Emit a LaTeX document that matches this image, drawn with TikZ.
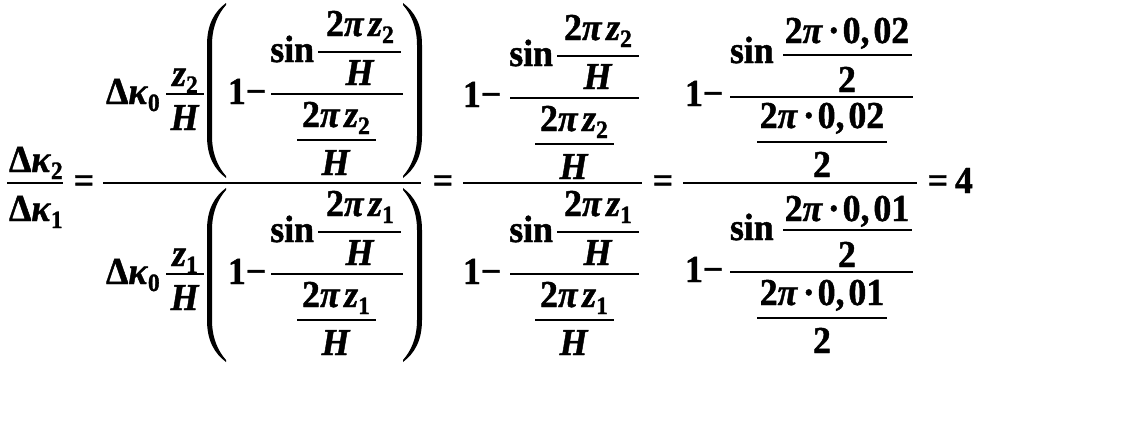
\documentclass[tikz,border=0pt]{standalone}
\usepackage{fontspec}
\setmainfont{Liberation Serif}[FakeStretch=0.94,BoldFeatures={FakeBold=1.2},BoldItalicFeatures={FakeBold=1.2}]
\newcommand\bi[1]{\textbf{\textit{#1}}}
\newcommand\sbs[1]{\raisebox{-7pt}{\fontsize{25}{25}\selectfont\bfseries #1}}
\newcommand\dk[1]{Δ\bi{κ}\sbs{#1}}
\newcommand\tpz[1]{2\bi{π}\kern4pt\bi{z}\sbs{#1}}
\newcommand\tpn[1]{2\bi{π}\kern5pt·\kern3pt0,\kern4pt0#1}
\newcommand\mH{\bi{H}}
\newcommand\lpar[3]{%
\fill (#1+19,#2) .. controls (#1+7,#2+9) and (#1,#2+22) .. (#1,#2+42) -- (#1,#3-42) .. controls (#1,#3-22) and (#1+7,#3-9) .. (#1+19,#3) -- (#1+19,#3-2) .. controls (#1+11,#3-11) and (#1+5,#3-24) .. (#1+5,#3-42) -- (#1+5,#2+42) .. controls (#1+5,#2+24) and (#1+11,#2+11) .. (#1+19,#2+2) -- cycle;}
\newcommand\rpar[3]{%
\fill (#1-19,#2) .. controls (#1-7,#2+9) and (#1,#2+22) .. (#1,#2+42) -- (#1,#3-42) .. controls (#1,#3-22) and (#1-7,#3-9) .. (#1-19,#3) -- (#1-19,#3-2) .. controls (#1-11,#3-11) and (#1-5,#3-24) .. (#1-5,#3-42) -- (#1-5,#2+42) .. controls (#1-5,#2+24) and (#1-11,#2+11) .. (#1-19,#2+2) -- cycle;}
\tikzset{
  every node/.style={inner sep=0pt,outer sep=0pt,font=\fontsize{38}{38}\selectfont\bfseries},
  bw/.style={anchor=base west},
  be/.style={anchor=base east},
  bc/.style={anchor=base},
  rule/.style={line width=2.4pt}
}
\begin{document}
\begin{tikzpicture}[x=1pt,y=-1pt]
\useasboundingbox[fill=white] (0,0) rectangle (1125,423);
% left-hand side
\node[bw] (k2) at (9,172) {\dk{2}};
\node[bw] (k1) at (9,221) {\dk{1}};
\draw[rule] (7,183) -- (63,183);
\node[bc] (eq1) at (84,193) {=};
% first big fraction
\draw[rule] (103,183) -- (421,183);
% numerator
\node[bw] (u0) at (106,104) {\dk{0}};
\node[bc] (uz) at (185,86) {\bi{z}\sbs{2}};
\draw[rule] (166,94) -- (204,94);
\node[bc] (uH) at (185,130) {\mH};
\lpar{207}{3}{178}
\rpar{422}{3}{178}
\node[bw] (u1) at (228,104) {1−};
\draw[rule] (271,94) -- (403,94);
\node[be] (us) at (314,62) {sin};
\draw[rule] (318,52) -- (401,52);
\node[bc] (usn) at (360,36) {\tpz{2}};
\node[bc] (usd) at (360,85) {\mH};
\node[bc] (udn) at (336,127) {\tpz{2}};
\draw[rule] (297,140) -- (376,140);
\node[bc] (udd) at (336,175) {\mH};
% denominator
\node[bw] (l0) at (106,284) {\dk{0}};
\node[bc] (lz) at (185,266) {\bi{z}\sbs{1}};
\draw[rule] (166,274) -- (204,274);
\node[bc] (lH) at (185,310) {\mH};
\lpar{207}{188}{362}
\rpar{422}{188}{362}
\node[bw] (l1) at (228,284) {1−};
\draw[rule] (271,274) -- (403,274);
\node[be] (ls) at (314,242) {sin};
\draw[rule] (318,232) -- (401,232);
\node[bc] (lsn) at (360,216) {\tpz{1}};
\node[bc] (lsd) at (360,265) {\mH};
\node[bc] (ldn) at (336,307) {\tpz{1}};
\draw[rule] (297,320) -- (376,320);
\node[bc] (ldd) at (336,355) {\mH};
% second fraction
\node[bc] (eq2) at (443,193) {=};
\draw[rule] (463,183) -- (642,183);
\node[bw] (v1) at (463,107) {1−};
\draw[rule] (510,98) -- (639,98);
\node[be] (vs) at (553,66) {sin};
\draw[rule] (557,56) -- (639,56);
\node[bc] (vsn) at (598,40) {\tpz{2}};
\node[bc] (vsd) at (598,89) {\mH};
\node[bc] (vdn) at (574,131) {\tpz{2}};
\draw[rule] (535,144) -- (614,144);
\node[bc] (vdd) at (574,179) {\mH};
\node[bw] (w1) at (463,284) {1−};
\draw[rule] (510,274) -- (639,274);
\node[be] (ws) at (553,242) {sin};
\draw[rule] (557,232) -- (639,232);
\node[bc] (wsn) at (598,216) {\tpz{1}};
\node[bc] (wsd) at (598,265) {\mH};
\node[bc] (wdn) at (574,307) {\tpz{1}};
\draw[rule] (535,320) -- (614,320);
\node[bc] (wdd) at (574,355) {\mH};
% third fraction
\node[bc] (eq3) at (663,193) {=};
\draw[rule] (683,183) -- (917,183);
\node[bw] (p1) at (685,106) {1−};
\draw[rule] (730,97) -- (913,97);
\node[bw] (ps) at (730,63) {sin};
\draw[rule] (783,55) -- (912,55);
\node[bc] (psn) at (847,43) {\tpn{2}};
\node[bc] (psd) at (847,92) {2};
\node[bc] (pdn) at (822,128) {\tpn{2}};
\draw[rule] (757,142) -- (887,142);
\node[bc] (pdd) at (822,177) {2};
\node[bw] (q1) at (685,282) {1−};
\draw[rule] (730,272) -- (913,272);
\node[bw] (qs) at (730,240) {sin};
\draw[rule] (783,230) -- (912,230);
\node[bc] (qsn) at (847,221) {\tpn{1}};
\node[bc] (qsd) at (847,267) {2};
\node[bc] (qdn) at (822,305) {\tpn{1}};
\draw[rule] (757,318) -- (887,318);
\node[bc] (qdd) at (822,353) {2};
\node[bc] (eq4) at (938,193) {=};
\node[bw] (four) at (955,193) {4};
\end{tikzpicture}
\end{document}
